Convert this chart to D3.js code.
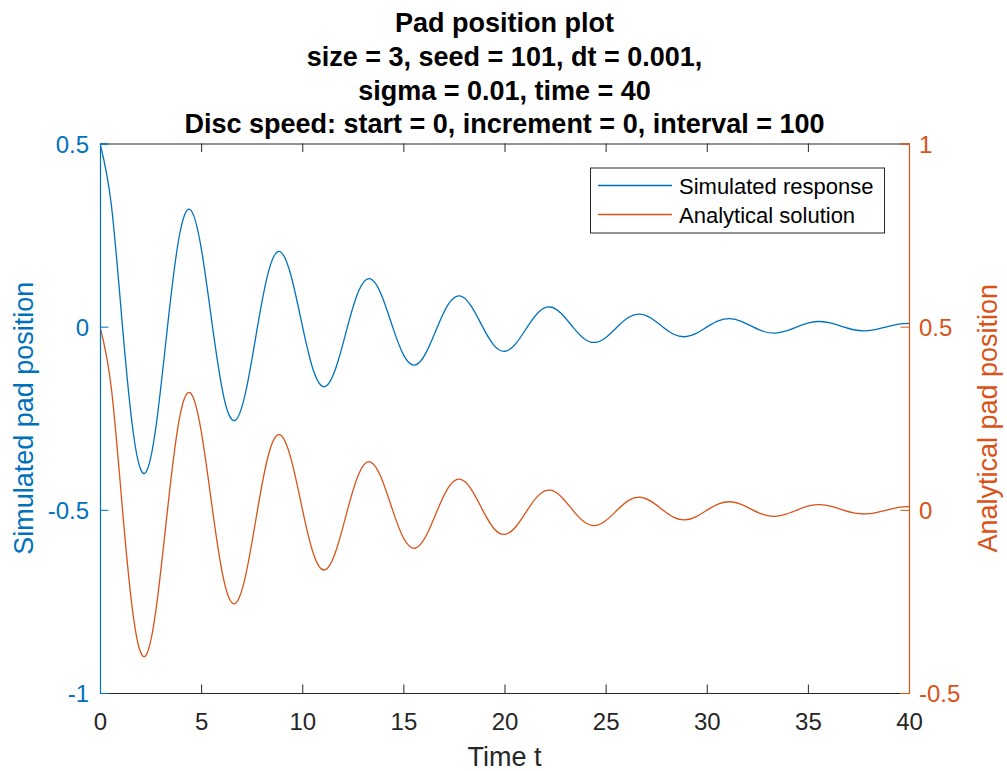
<!DOCTYPE html>
<html>
<head>
<meta charset="utf-8">
<script src="https://cdn.jsdelivr.net/npm/d3@7"></script>
<style>
  html, body { margin: 0; padding: 0; background: #fff; }
  svg { display: block; font-family: "Liberation Sans", Arial, Helvetica, sans-serif; }
</style>
</head>
<body>
<svg id="chart" width="1007" height="771"></svg>
<script>
// ---- data ----
const titleLines = [
  "Pad position plot",
  "size = 3, seed = 101, dt = 0.001,",
  "sigma = 0.01, time = 40",
  "Disc speed: start = 0, increment = 0, interval = 100"
];
const xLabel = "Time t";
const leftLabel = "Simulated pad position";
const rightLabel = "Analytical pad position";
const seriesNames = ["Simulated response", "Analytical solution"];

const xTicks = [0, 5, 10, 15, 20, 25, 30, 35, 40];
const leftTicks = [-1, -0.5, 0, 0.5];
const rightTicks = [-0.5, 0, 0.5, 1];

const timeValues = [
  0, 0.556, 1.113, 1.669, 2.225, 2.781, 3.338, 3.894,
  4.45, 5.006, 5.563, 6.119, 6.675, 7.231, 7.788, 8.344,
  8.9, 9.456, 10.013, 10.569, 11.125, 11.681, 12.238, 12.794,
  13.35, 13.906, 14.463, 15.019, 15.575, 16.131, 16.688, 17.244,
  17.8, 18.356, 18.913, 19.469, 20.025, 20.581, 21.138, 21.694,
  22.25, 22.806, 23.363, 23.919, 24.475, 25.031, 25.588, 26.144,
  26.7, 27.256, 27.813, 28.369, 28.925, 29.481, 30.038, 30.594,
  31.15, 31.706, 32.263, 32.819, 33.375, 33.931, 34.488, 35.044,
  35.6, 36.156, 36.713, 37.269, 37.825, 38.381, 38.938, 39.494,
  40
];
const simulatedValues = [
  0.5, 0.3344, 0, -0.2991, -0.4, -0.2675, 0, 0.2393,
  0.32, 0.2140, 0, -0.1914, -0.256, -0.1712, 0, 0.1531,
  0.2048, 0.1370, 0, -0.1225, -0.1638, -0.1096, 0, 0.0980,
  0.1311, 0.0877, 0, -0.0784, -0.1049, -0.0701, 0, 0.0627,
  0.0839, 0.0561, 0, -0.0502, -0.0671, -0.0449, 0, 0.0401,
  0.0537, 0.0359, 0, -0.0321, -0.0430, -0.0287, 0, 0.0257,
  0.0344, 0.0230, 0, -0.0206, -0.0275, -0.0184, 0, 0.0164,
  0.0220, 0.0147, 0, -0.0132, -0.0176, -0.0118, 0, 0.0105,
  0.0141, 0.0094, 0, -0.0084, -0.0113, -0.0075, 0, 0.0067,
  0.009
];
const analyticalValues = [
  0.5, 0.3344, 0, -0.2991, -0.4, -0.2675, 0, 0.2393,
  0.32, 0.2140, 0, -0.1914, -0.256, -0.1712, 0, 0.1531,
  0.2048, 0.1370, 0, -0.1225, -0.1638, -0.1096, 0, 0.0980,
  0.1311, 0.0877, 0, -0.0784, -0.1049, -0.0701, 0, 0.0627,
  0.0839, 0.0561, 0, -0.0502, -0.0671, -0.0449, 0, 0.0401,
  0.0537, 0.0359, 0, -0.0321, -0.0430, -0.0287, 0, 0.0257,
  0.0344, 0.0230, 0, -0.0206, -0.0275, -0.0184, 0, 0.0164,
  0.0220, 0.0147, 0, -0.0132, -0.0176, -0.0118, 0, 0.0105,
  0.0141, 0.0094, 0, -0.0084, -0.0113, -0.0075, 0, 0.0067,
  0.009
];

// ---- layout / style ----
const BLUE = "#0072BD", ORANGE = "#D95319", DARK = "#262626";
const L = 100, R = 909, T = 143.5, B = 693;
const TICK = 8.5;

const svg = d3.select("#chart");

const x = d3.scaleLinear().domain([0, 40]).range([L, R]);
const yL = d3.scaleLinear().domain([-1, 0.5]).range([B, T]);
const yR = d3.scaleLinear().domain([-0.5, 1]).range([B, T]);

// clip
svg.append("defs").append("clipPath").attr("id", "plotclip")
  .append("rect").attr("x", L).attr("y", T).attr("width", R - L).attr("height", B - T);

// lines
const simData = timeValues.map((t, i) => [t, simulatedValues[i]]);
const anaData = timeValues.map((t, i) => [t, analyticalValues[i]]);
const lineL = d3.line().x(d => x(d[0])).y(d => yL(d[1])).curve(d3.curveNatural);
const lineR = d3.line().x(d => x(d[0])).y(d => yR(d[1])).curve(d3.curveNatural);

const plot = svg.append("g").attr("clip-path", "url(#plotclip)");
plot.append("path").datum(simData).attr("d", lineL)
  .attr("fill", "none").attr("stroke", BLUE).attr("stroke-width", 1.3);
plot.append("path").datum(anaData).attr("d", lineR)
  .attr("fill", "none").attr("stroke", ORANGE).attr("stroke-width", 1.3);

// x axes (bottom with labels, top ticks only)
const xAxisB = svg.append("g").attr("transform", `translate(0,${B})`)
  .call(d3.axisBottom(x).tickValues(xTicks).tickSize(-TICK).tickPadding(0).tickFormat(d3.format("d")));
xAxisB.select(".domain").attr("stroke", DARK).attr("stroke-width", 1);
xAxisB.selectAll(".tick line").attr("stroke", DARK);
xAxisB.selectAll(".tick text").attr("fill", DARK).attr("font-size", 24)
  .attr("y", 37).attr("dy", 0);

const xAxisT = svg.append("g").attr("transform", `translate(0,${T})`)
  .call(d3.axisTop(x).tickValues(xTicks).tickSize(-TICK).tickFormat(""));
xAxisT.select(".domain").attr("stroke", DARK).attr("stroke-width", 1);
xAxisT.selectAll(".tick line").attr("stroke", DARK);

// left axis
const yAxisL = svg.append("g").attr("transform", `translate(${L},0)`)
  .call(d3.axisLeft(yL).tickValues(leftTicks).tickSize(-TICK).tickPadding(11).tickFormat(d => String(d)));
yAxisL.select(".domain").attr("stroke", BLUE).attr("stroke-width", 1.2);
yAxisL.selectAll(".tick line").attr("stroke", BLUE);
yAxisL.selectAll(".tick text").attr("fill", BLUE).attr("font-size", 24).attr("x", -11).attr("dy", "0.36em");

// right axis
const yAxisR = svg.append("g").attr("transform", `translate(${R},0)`)
  .call(d3.axisRight(yR).tickValues(rightTicks).tickSize(-TICK).tickFormat(d => String(d)));
yAxisR.select(".domain").attr("stroke", ORANGE).attr("stroke-width", 1.2);
yAxisR.selectAll(".tick line").attr("stroke", ORANGE);
yAxisR.selectAll(".tick text").attr("fill", ORANGE).attr("font-size", 24).attr("x", 10).attr("dy", "0.36em");

svg.selectAll(".tick text").attr("font-family", "\"Liberation Sans\", Arial, sans-serif");

// axis labels
svg.append("text").attr("x", (L + R) / 2).attr("y", 766)
  .attr("text-anchor", "middle").attr("font-size", 27).attr("fill", DARK).text(xLabel);
svg.append("text").attr("transform", `translate(33,${(T + B) / 2}) rotate(-90)`)
  .attr("text-anchor", "middle").attr("font-size", 27).attr("fill", BLUE).text(leftLabel);
svg.append("text").attr("transform", `translate(997,${(T + B) / 2}) rotate(-90)`)
  .attr("text-anchor", "middle").attr("font-size", 27).attr("fill", ORANGE).text(rightLabel);

// title
const title = svg.append("text").attr("text-anchor", "middle").attr("font-weight", "bold")
  .attr("font-size", 27).attr("fill", "#000");
titleLines.forEach((s, i) => {
  title.append("tspan").attr("x", (L + R) / 2).attr("y", 32 + i * 33.8).text(s);
});

// legend
const leg = svg.append("g");
leg.append("rect").attr("x", 590.5).attr("y", 168).attr("width", 294).attr("height", 65)
  .attr("fill", "#fff").attr("stroke", DARK).attr("stroke-width", 1);
const legColors = [BLUE, ORANGE];
seriesNames.forEach((name, i) => {
  const cy = 185.5 + i * 29;
  leg.append("line").attr("x1", 598).attr("x2", 672).attr("y1", cy).attr("y2", cy)
    .attr("stroke", legColors[i]).attr("stroke-width", 1.3);
  leg.append("text").attr("x", 679).attr("y", cy + 8).attr("font-size", 22)
    .attr("fill", "#000").text(name);
});
</script>
</body>
</html>
